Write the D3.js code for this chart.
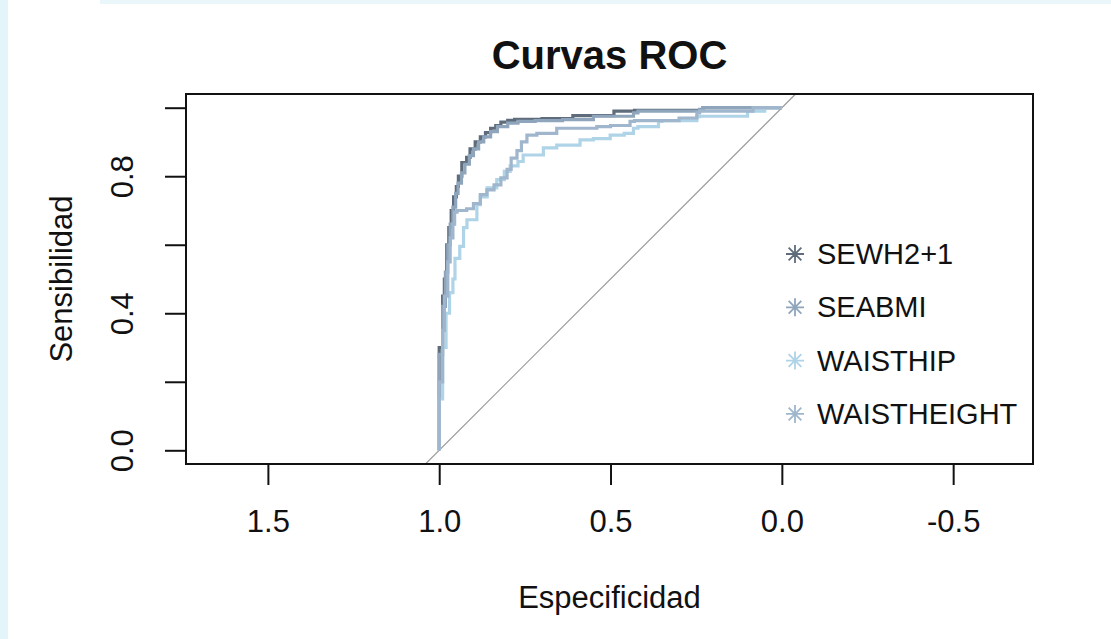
<!DOCTYPE html>
<html>
<head>
<meta charset="utf-8">
<script src="https://cdn.jsdelivr.net/npm/d3@7"></script>
<style>
  body { margin: 0; background: #fff; }
  svg { display: block; font-family: "Liberation Sans", Arial, sans-serif; }
</style>
</head>
<body>
<div id="chart"></div>
<script>
// series names, colours (legend order)
const seriesNames = ["SEWH2+1", "SEABMI", "WAISTHIP", "WAISTHEIGHT"];
const seriesColors = ["#5e6c7c", "#8fa5bc", "#afd3e7", "#9fb6cd"];

// specificity / sensitivity pairs
const specSEWH = [1.0, 0.99, 0.985, 0.978, 0.972, 0.965, 0.958, 0.95, 0.944, 0.934, 0.92, 0.91, 0.895, 0.88, 0.865, 0.85, 0.835, 0.82, 0.80, 0.78, 0.70, 0.61, 0.49, 0.43, 0.23, 0.22, 0.0];
const sensSEWH = [0.0, 0.30, 0.45, 0.50, 0.60, 0.65, 0.70, 0.74, 0.77, 0.80, 0.84, 0.855, 0.88, 0.90, 0.915, 0.927, 0.94, 0.948, 0.958, 0.963, 0.966, 0.968, 0.977, 0.99, 0.992, 1.0, 1.0];

const specSEABMI = [1.0, 0.99, 0.982, 0.975, 0.968, 0.96, 0.952, 0.945, 0.935, 0.925, 0.912, 0.90, 0.885, 0.87, 0.85, 0.83, 0.80, 0.77, 0.72, 0.64, 0.55, 0.433, 0.42, 0.24, 0.23, 0.05, 0.0];
const sensSEABMI = [0.0, 0.28, 0.42, 0.52, 0.60, 0.66, 0.71, 0.75, 0.78, 0.81, 0.835, 0.86, 0.88, 0.90, 0.915, 0.93, 0.945, 0.955, 0.96, 0.962, 0.965, 0.975, 0.985, 0.99, 0.995, 1.0, 1.0];

const specWAISTHIP = [1.0, 0.99, 0.98, 0.97, 0.96, 0.954, 0.94, 0.929, 0.919, 0.89, 0.88, 0.86, 0.832, 0.81, 0.793, 0.77, 0.755, 0.696, 0.657, 0.589, 0.55, 0.501, 0.46, 0.433, 0.42, 0.36, 0.35, 0.248, 0.24, 0.10, 0.05, 0.0];
const sensWAISTHIP = [0.0, 0.15, 0.30, 0.40, 0.46, 0.50, 0.56, 0.595, 0.65, 0.673, 0.717, 0.74, 0.766, 0.79, 0.814, 0.83, 0.843, 0.862, 0.883, 0.891, 0.906, 0.91, 0.92, 0.925, 0.94, 0.945, 0.96, 0.962, 0.974, 0.975, 0.99, 1.0];

const specWAISTHEIGHT = [1.0, 0.99, 0.985, 0.975, 0.968, 0.96, 0.955, 0.948, 0.92, 0.90, 0.88, 0.861, 0.84, 0.82, 0.802, 0.79, 0.773, 0.76, 0.744, 0.715, 0.657, 0.589, 0.54, 0.50, 0.443, 0.43, 0.30, 0.248, 0.24, 0.084, 0.07, 0.0];
const sensWAISTHEIGHT = [0.0, 0.20, 0.35, 0.45, 0.55, 0.62, 0.66, 0.695, 0.70, 0.705, 0.72, 0.746, 0.76, 0.775, 0.795, 0.82, 0.853, 0.875, 0.90, 0.92, 0.925, 0.94, 0.94, 0.945, 0.948, 0.96, 0.962, 0.97, 0.985, 0.99, 1.0, 1.0];

const specList = [specSEWH, specSEABMI, specWAISTHIP, specWAISTHEIGHT];
const sensList = [sensSEWH, sensSEABMI, sensWAISTHIP, sensWAISTHEIGHT];

// axis ticks
const xTicks = [1.5, 1.0, 0.5, 0.0, -0.5];
const yTicks = [0.0, 0.2, 0.4, 0.6, 0.8, 1.0];
const yLabelled = [0.0, 0.4, 0.8];

const width = 1111;
const height = 639;
const plot = { left: 186, right: 1033, top: 94, bottom: 464 };

const svg = d3.select("#chart")
  .append("svg")
  .attr("width", width)
  .attr("height", height)

// light page edges from the screenshot
svg.append("rect").attr("x", 0).attr("y", 0).attr("width", 8).attr("height", height).attr("fill", "#e4f5f9")
svg.append("rect").attr("x", 100).attr("y", 0).attr("width", width - 100).attr("height", 4).attr("fill", "#eaf7fa")

const x = d3.scaleLinear()
  .domain([1.739, -0.733])
  .range([plot.left, plot.right])

const y = d3.scaleLinear()
  .domain([-0.04, 1.04])
  .range([plot.bottom, plot.top])

svg.append("clipPath").attr("id", "clip")
  .append("rect")
  .attr("x", plot.left).attr("y", plot.top)
  .attr("width", plot.right - plot.left).attr("height", plot.bottom - plot.top)

// chance diagonal
svg.append("line")
  .attr("clip-path", "url(#clip)")
  .attr("x1", x(1.04)).attr("y1", y(-0.04))
  .attr("x2", x(-0.04)).attr("y2", y(1.04))
  .attr("stroke", "#9a9a9a")
  .attr("stroke-width", 1.2)

const line = d3.line()
  .x(d => x(d[0]))
  .y(d => y(d[1]))
  .curve(d3.curveStepBefore)

const curves = specList.map((spec, i) => spec.map((s, j) => [s, sensList[i][j]]))

svg.selectAll("path.roc")
  .data(curves)
  .join("path")
  .attr("class", "roc")
  .attr("d", line)
  .attr("fill", "none")
  .attr("stroke", (d, i) => seriesColors[i])
  .attr("stroke-width", 3.2)

// frame
svg.append("rect")
  .attr("x", plot.left).attr("y", plot.top)
  .attr("width", plot.right - plot.left).attr("height", plot.bottom - plot.top)
  .attr("fill", "none")
  .attr("stroke", "#111")
  .attr("stroke-width", 2)

const xAxis = d3.axisBottom(x)
  .tickValues(xTicks)
  .tickSize(21)
  .tickFormat(d => d.toFixed(1))

const xAxisGroup = svg.append("g")
  .attr("transform", `translate(0, ${plot.bottom})`)
  .call(xAxis)

xAxisGroup.select(".domain").remove()
xAxisGroup.selectAll("line").attr("stroke", "#111").attr("stroke-width", 2)
xAxisGroup.selectAll("text")
  .attr("y", 68)
  .attr("dy", null)
  .attr("fill", "#111")
  .attr("font-size", 31)
  .attr("font-family", "Liberation Sans, Arial, sans-serif")

const yAxis = d3.axisLeft(y)
  .tickValues(yTicks)
  .tickSize(21)
  .tickFormat(d => yLabelled.includes(d) ? d.toFixed(1) : "")

const yAxisGroup = svg.append("g")
  .attr("transform", `translate(${plot.left}, 0)`)
  .call(yAxis)

yAxisGroup.select(".domain").remove()
yAxisGroup.selectAll("line").attr("stroke", "#111").attr("stroke-width", 2)
yAxisGroup.selectAll("text")
  .attr("x", 0)
  .attr("y", -53)
  .attr("dy", null)
  .attr("transform", "rotate(-90)")
  .attr("text-anchor", "middle")
  .attr("fill", "#111")
  .attr("font-size", 31)
  .attr("font-family", "Liberation Sans, Arial, sans-serif")

// titles
const cx = (plot.left + plot.right) / 2
svg.append("text")
  .attr("x", cx).attr("y", 69)
  .attr("text-anchor", "middle")
  .attr("font-size", 40)
  .attr("font-weight", "bold")
  .attr("fill", "#111")
  .text("Curvas ROC")

svg.append("text")
  .attr("x", cx).attr("y", 608)
  .attr("text-anchor", "middle")
  .attr("font-size", 31)
  .attr("fill", "#111")
  .text("Especificidad")

svg.append("text")
  .attr("transform", `translate(72, ${(plot.top + plot.bottom) / 2}) rotate(-90)`)
  .attr("text-anchor", "middle")
  .attr("font-size", 31)
  .attr("fill", "#111")
  .text("Sensibilidad")

// legend with asterisk markers (pch 8)
const asterisk = r => {
  const p = d3.path()
  const s = r * Math.SQRT1_2
  p.moveTo(-r, 0); p.lineTo(r, 0)
  p.moveTo(0, -r); p.lineTo(0, r)
  p.moveTo(-s, -s); p.lineTo(s, s)
  p.moveTo(-s, s); p.lineTo(s, -s)
  return p.toString()
}

const legend = svg.selectAll("g.legend")
  .data(seriesNames)
  .join("g")
  .attr("class", "legend")
  .attr("transform", (d, i) => `translate(795, ${264 + i * 53.3})`)

legend.append("path")
  .attr("d", asterisk(9))
  .attr("transform", "translate(0, -10)")
  .attr("fill", "none")
  .attr("stroke", (d, i) => seriesColors[i])
  .attr("stroke-width", 1.8)

legend.append("text")
  .attr("x", 22)
  .attr("font-size", 29)
  .attr("fill", "#111")
  .text(d => d)
</script>
</body>
</html>
